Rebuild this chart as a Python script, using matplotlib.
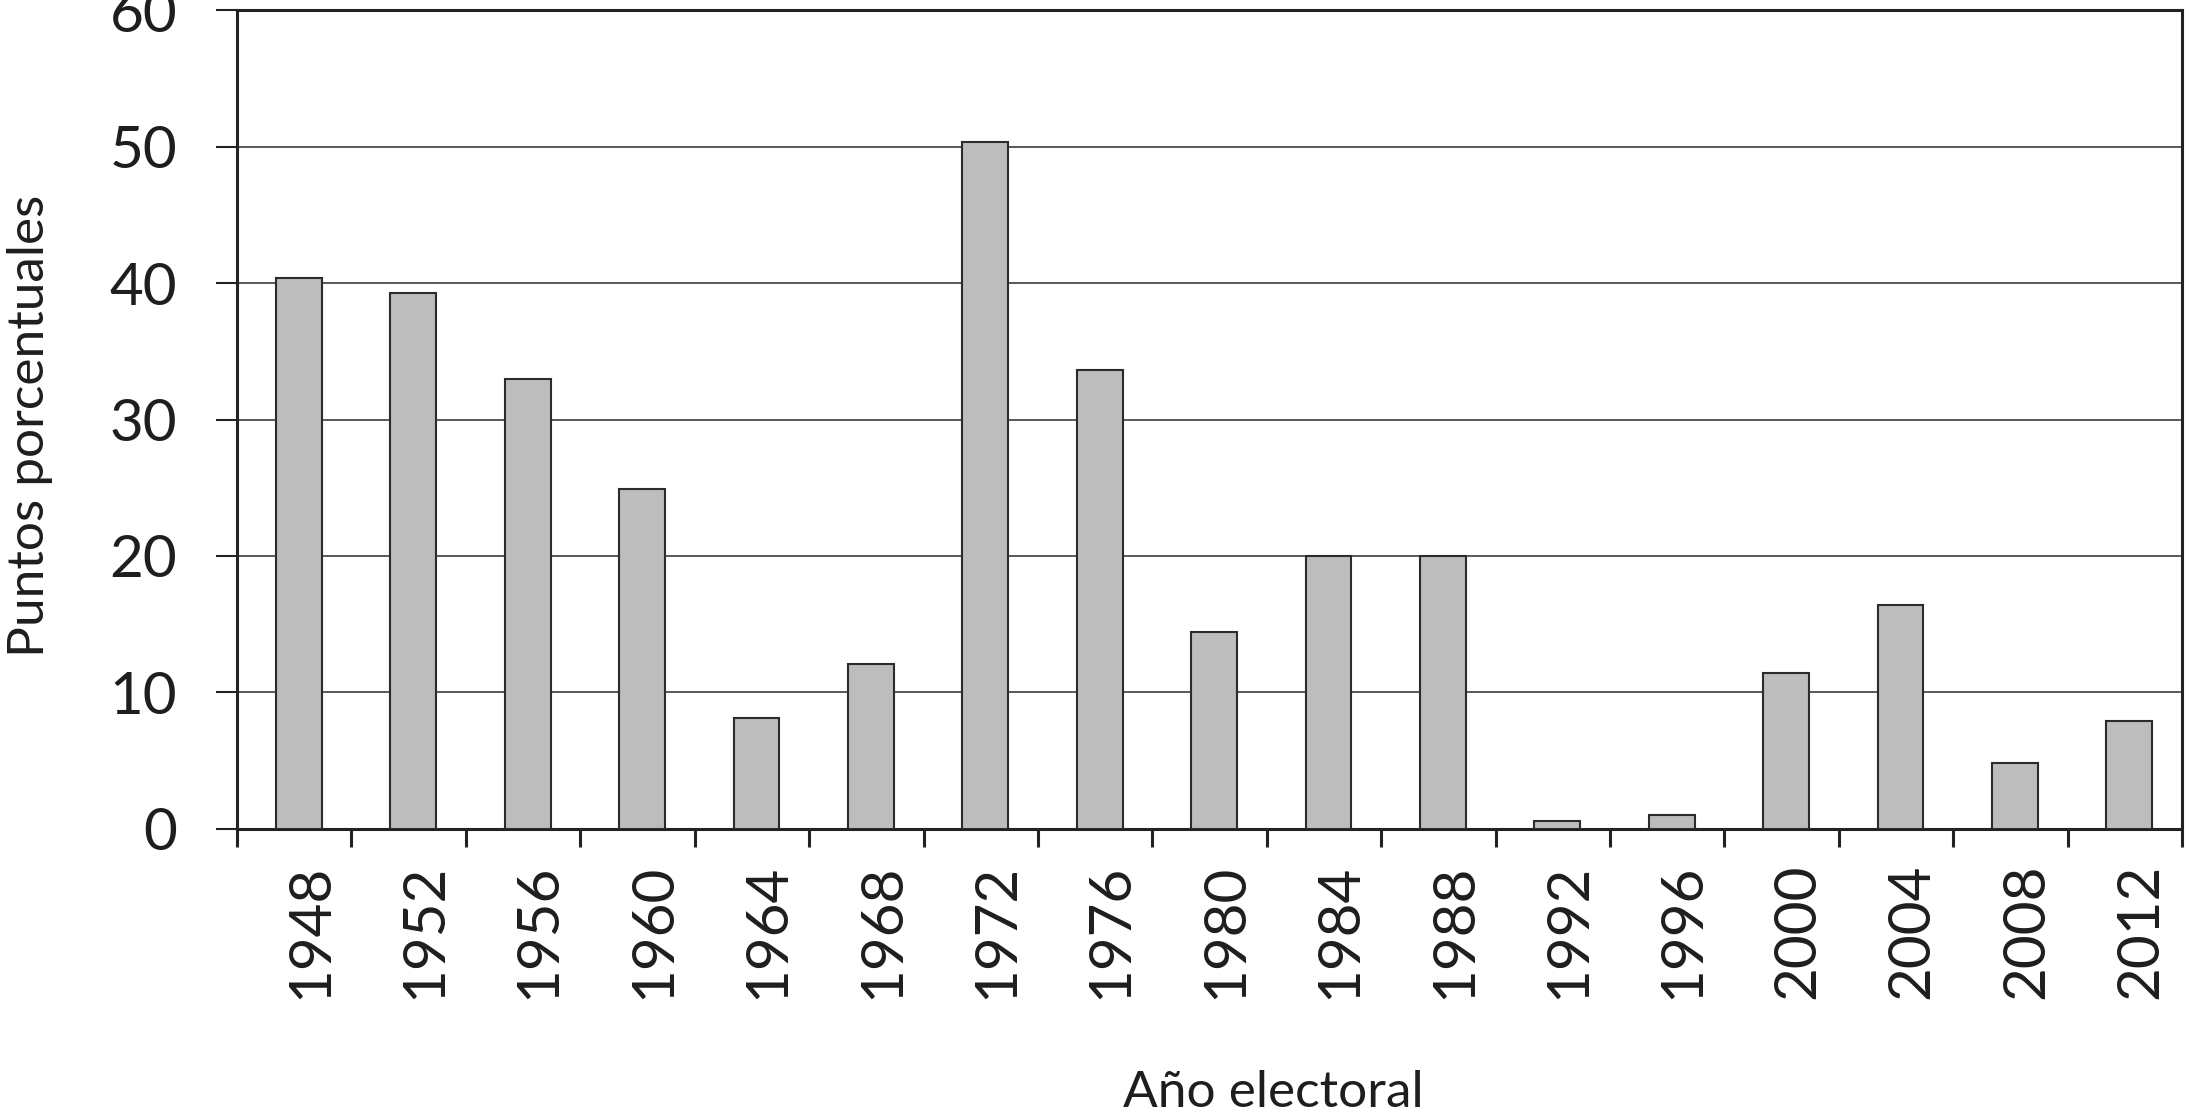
import matplotlib
matplotlib.use("Agg")
import matplotlib.pyplot as plt
import numpy as np

# values
years = ["1948", "1952", "1956", "1960", "1964", "1968", "1972", "1976", "1980",
         "1984", "1988", "1992", "1996", "2000", "2004", "2008", "2012"]
points = [40.4, 39.3, 33.0, 24.9, 8.1, 12.1, 50.3, 33.6, 14.4,
          20.0, 20.0, 0.6, 1.0, 11.4, 16.4, 4.8, 7.9]
y_ticks = [0, 10, 20, 30, 40, 50, 60]

plt.rcParams["font.family"] = ["Lato", "DejaVu Sans"]
text_color = "#1e1e1e"

fig = plt.figure(figsize=(21.89, 11.16), dpi=100)
ax = fig.add_axes([0.1083, 0.2572, 0.8885, 0.7338])

x = np.arange(len(years))
ax.bar(x + 0.04, points, width=0.4, color="#bdbdbd", edgecolor="#2b2b2b",
       linewidth=1.5, zorder=3)

ax.set_xlim(-0.5, len(years) - 0.5)
ax.set_ylim(0, 60)

# major ticks on category boundaries, labels at bar centres
ax.set_xticks(np.arange(len(years) + 1) - 0.5)
ax.set_xticklabels([])
ax.set_xticks(x + 0.14, minor=True)
ax.set_xticklabels(years, minor=True, rotation=90, fontsize=42,
                   color=text_color)
ax.tick_params(axis="x", which="major", direction="out", length=13,
               width=2.2, color="#222222")
ax.tick_params(axis="x", which="minor", length=0, pad=25)

ax.set_yticks(y_ticks)
ax.set_yticklabels([str(v) for v in y_ticks], fontsize=42, color=text_color)
ax.tick_params(axis="y", direction="out", length=15, width=1.5,
               color="#222222", pad=28)

ax.grid(axis="y", color="#2b2b2b", linewidth=1.1, zorder=0)
ax.set_axisbelow(True)

for side in ["left", "bottom", "top", "right"]:
    ax.spines[side].set_linewidth(2.2)
    ax.spines[side].set_color("#222222")

fig.text(0.5816, 0.021, "Año electoral", ha="center", va="center",
         fontsize=37, color=text_color)
fig.text(0.0135, 0.618, "Puntos porcentuales", ha="center", va="center",
         rotation=90, fontsize=37, color=text_color)

fig.savefig("out.png", dpi=100)
